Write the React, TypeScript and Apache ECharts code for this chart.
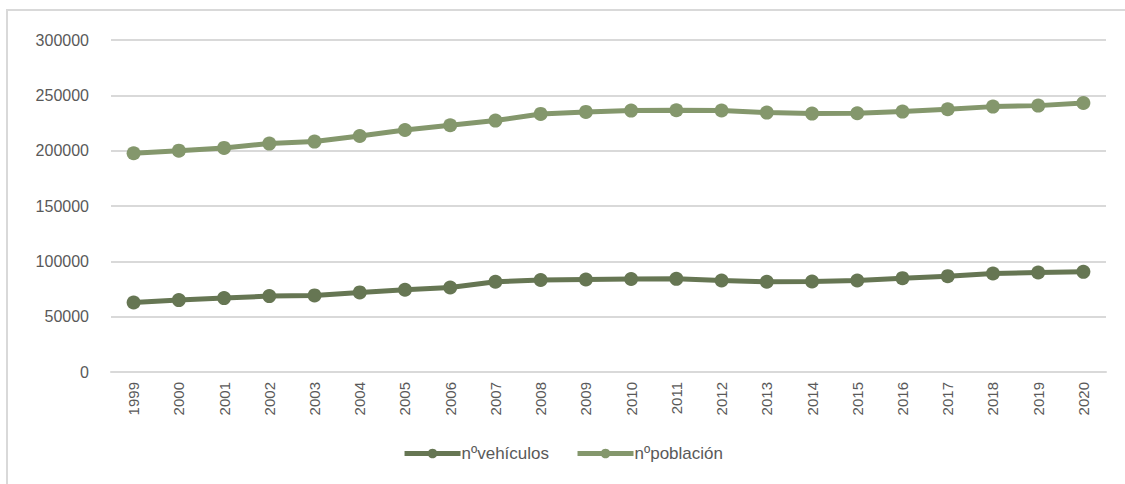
import React, { useEffect, useRef } from "react";
import * as echarts from "echarts";

const years = ["1999","2000","2001","2002","2003","2004","2005","2006","2007","2008","2009","2010","2011","2012","2013","2014","2015","2016","2017","2018","2019","2020"];
const vehiculos = [62800,65000,66800,68600,69200,71900,74300,76400,81500,83100,83600,84000,84200,82700,81500,81800,82700,84800,86600,89000,89900,90500];
const poblacion = [197700,200000,202500,206400,208200,213300,218700,223000,227200,233200,235000,236200,236500,236300,234400,233500,233800,235300,237400,239800,240700,243100];
const yTicks = { min: 0, max: 300000, interval: 50000 };

export default function App() {
  const ref = useRef<HTMLDivElement>(null);
  useEffect(() => {
    if (!ref.current) return;
    const chart = echarts.init(ref.current, null, { renderer: "svg" });
    const font = "'Liberation Sans', Arial, sans-serif";
    chart.setOption({
      animation: false,
      textStyle: { fontFamily: font },
      graphic: [
        {
          type: "rect",
          shape: { x: 7, y: 10, width: 1200, height: 520 },
          style: { fill: "none", stroke: "#d9d9d9", lineWidth: 2 },
          silent: true,
        },
      ],
      grid: { left: 111, right: 19, top: 40, bottom: 112 },
      xAxis: {
        type: "category",
        data: years,
        boundaryGap: true,
        axisLine: { show: true, lineStyle: { color: "#d9d9d9", width: 2 } },
        axisTick: { show: false },
        axisLabel: { rotate: 90, margin: 10, color: "#595959", fontSize: 15, fontFamily: font },
      },
      yAxis: {
        type: "value",
        min: yTicks.min,
        max: yTicks.max,
        interval: yTicks.interval,
        axisLine: { show: false },
        axisTick: { show: false },
        axisLabel: {
          margin: 22,
          color: "#595959",
          fontSize: 16,
          fontFamily: font,
          formatter: (v: number) => String(v),
        },
        splitLine: { lineStyle: { color: "#d9d9d9", width: 2 } },
      },
      legend: {
        bottom: 17,
        left: "center",
        itemWidth: 56,
        itemHeight: 12,
        itemGap: 26,
        lineStyle: { width: 5 },
        textStyle: { color: "#595959", fontSize: 17, fontFamily: font, padding: [0, 0, 0, -4] },
        data: ["nºvehículos", "nºpoblación"],
      },
      series: [
        {
          name: "nºvehículos",
          type: "line",
          data: vehiculos,
          symbol: "circle",
          symbolSize: 14,
          lineStyle: { width: 5, color: "#667653" },
          itemStyle: { color: "#667653" },
        },
        {
          name: "nºpoblación",
          type: "line",
          data: poblacion,
          symbol: "circle",
          symbolSize: 14,
          lineStyle: { width: 5, color: "#84976c" },
          itemStyle: { color: "#84976c" },
        },
      ],
    });
    return () => chart.dispose();
  }, []);
  return (
    <div
      ref={ref}
      style={{ position: "absolute", left: 0, top: 0, width: 1125, height: 484, background: "#fff" }}
    />
  );
}
